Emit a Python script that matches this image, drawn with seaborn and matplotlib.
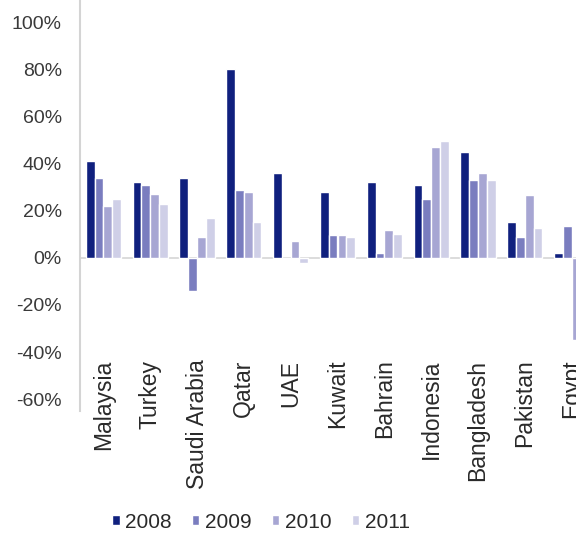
import numpy as np
import pandas as pd
import matplotlib
matplotlib.use("Agg")
import matplotlib.pyplot as plt
import seaborn as sns

# Annual growth by country, 2008-2011 (fractions)
countries = ["Malaysia", "Turkey", "Saudi Arabia", "Qatar", "UAE", "Kuwait",
             "Bahrain", "Indonesia", "Bangladesh", "Pakistan", "Egypt"]
years = ["2008", "2009", "2010", "2011"]
g2008 = [0.41, 0.32, 0.34, 0.80, 0.36, 0.28, 0.32, 0.31, 0.45, 0.15, 0.02]
g2009 = [0.34, 0.31, -0.14, 0.29, 0.00, 0.097, 0.02, 0.25, 0.33, 0.09, 0.134]
g2010 = [0.22, 0.27, 0.09, 0.28, 0.07, 0.097, 0.12, 0.47, 0.36, 0.265, -0.35]
g2011 = [0.25, 0.23, 0.17, 0.15, -0.02, 0.09, 0.10, 0.495, 0.33, 0.127, np.nan]
ytick_vals = [-0.6, -0.4, -0.2, 0.0, 0.2, 0.4, 0.6, 0.8, 1.0]
ytick_labels = ["-60%", "-40%", "-20%", "0%", "20%", "40%", "60%", "80%", "100%"]

colors = ["#10207e", "#7a7dbf", "#a7a6d3", "#cfcfe7"]

df = pd.DataFrame({
    "country": np.repeat(countries, 4),
    "year": years * len(countries),
    "value": np.ravel(np.column_stack([g2008, g2009, g2010, g2011])),
})

sns.set_style("white")
plt.rcParams["font.family"] = ["Liberation Sans", "DejaVu Sans"]

fig = plt.figure(figsize=(5.76, 5.40), dpi=100)
ax = fig.add_axes([80 / 576, 129 / 540, 515 / 576, 410 / 540])

sns.barplot(data=df, x="country", y="value", hue="year", hue_order=years,
            order=countries, palette=colors, saturation=1, width=0.75,
            dodge=True, ax=ax, legend=True)

ax.set_xlim(-0.5, len(countries) - 0.5)
ax.set_ylim(-0.65, 1.09)
ax.set_yticks(ytick_vals)
ax.set_yticklabels(ytick_labels, fontsize=14, color="#3a3a3a")
ax.set_xlabel("")
ax.set_ylabel("")

ax.axhline(0, color="#d6d6d6", lw=1.2, zorder=0)

for side in ["top", "right", "bottom"]:
    ax.spines[side].set_visible(False)
ax.spines["left"].set_color("#d4d4d4")
ax.spines["left"].set_linewidth(1.5)

ax.tick_params(axis="y", length=0, pad=13)
ax.tick_params(axis="x", length=0, pad=-37)
for lbl in ax.get_xticklabels():
    lbl.set_rotation(90)
    lbl.set_fontsize(16.5)
    lbl.set_color("#2a2a2a")
    lbl.set_ha("center")
    lbl.set_va("top")

handles, labels = ax.get_legend_handles_labels()
ax.get_legend().remove()
fig.legend(handles, labels, loc="center", bbox_to_anchor=(0.453, 0.033),
           ncol=4, frameon=False, fontsize=15, handlelength=0.35,
           handleheight=0.35, handletextpad=0.25, columnspacing=1.0,
           labelcolor="#2a2a2a")

fig.savefig("out.png", dpi=100)
